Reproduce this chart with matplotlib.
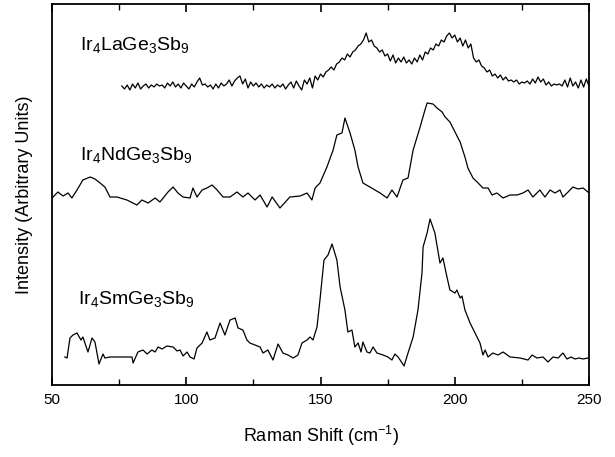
import matplotlib
matplotlib.use("Agg")
import matplotlib.pyplot as plt
from matplotlib.ticker import MultipleLocator

# --- data (Raman shift in cm-1, arbitrary intensity) ---
la_shift = list(range(76, 251))
la_int = [
    299, 296, 300, 295, 301, 297, 302, 296, 299, 301, 297, 300, 298, 301, 299, 300,
    297, 302, 299, 303, 298, 301, 297, 302, 299, 296, 301, 298, 303, 307, 300, 301,
    298, 300, 296, 301, 297, 302, 299, 301, 305, 299, 304, 307, 309, 301, 306, 297,
    303, 299, 302, 298, 301, 297, 300, 298, 301, 297, 300, 298, 301, 296, 300, 303,
    297, 304, 299, 295, 305, 301, 307, 297, 309, 305, 311, 308, 313, 315, 318, 315,
    321, 323, 327, 325, 331, 328, 333, 335, 339, 341, 345, 352, 343, 345, 339, 337,
    333, 335, 329, 331, 324, 330, 322, 327, 323, 328, 322, 325, 321, 327, 323, 330,
    325, 333, 331, 337, 335, 341, 339, 345, 343, 349, 352, 347, 350, 343, 347, 339,
    345, 337, 341, 327, 323, 325, 319, 317, 313, 315, 309, 311, 307, 310, 305, 308,
    304, 305, 303, 305, 301, 303, 302, 304, 301, 306, 302, 308, 303, 306, 300, 303,
    299, 301, 300, 301, 299, 305, 298, 307, 299, 303, 297, 305, 298, 306, 299,
]

nd_shift = [
    50.4, 52.2, 54.1, 56.0, 57.4, 59.3, 61.5, 64.2, 66.0, 67.9, 69.7, 71.6, 74.2,
    77.9, 81.6, 83.5, 85.8, 88.4, 90.2, 93.2, 95.1, 96.9, 98.8, 101.4, 102.5, 104.0,
    105.9, 107.7, 109.6, 111.5, 113.7, 116.3, 118.9, 121.1, 123.0, 125.6, 127.5,
    130.1, 132.0, 134.9, 138.6, 142.4, 145.0, 146.8, 148.0, 149.8, 152.4, 154.7,
    156.1, 158.0, 159.1, 161.0, 162.8, 164.0, 165.8, 168.4, 170.3, 172.2, 174.8,
    176.6, 178.5, 180.7, 182.6, 184.5, 187.1, 188.9, 189.7, 191.9, 193.4, 195.3,
    196.4, 198.2, 200.1, 202.0, 203.8, 204.9, 206.8, 208.7, 210.5, 212.4, 213.9,
    215.7, 218.0, 220.6, 223.2, 225.4, 227.3, 229.1, 231.7, 233.6, 235.5, 237.3,
    239.2, 240.3, 242.2, 244.0, 245.9, 247.8, 249.6,
]
nd_int = [
    188, 193, 189, 192, 187, 195, 205, 208, 206, 202, 198, 188, 188,
    185, 180, 185, 182, 187, 183, 193, 198, 192, 188, 187, 197, 188,
    195, 197, 200, 195, 188, 188, 193, 188, 192, 185, 190,
    178, 188, 177, 188, 189, 192, 185, 197, 202, 218, 235,
    250, 252, 267, 252, 235, 218, 202, 198, 195, 192, 187,
    195, 188, 205, 207, 235, 258, 275, 282, 281, 277, 273,
    268, 263, 253, 243, 228, 217, 207, 202, 197, 197, 190,
    192, 187, 190, 190, 192, 195, 188, 195, 188, 195, 192,
    195, 188, 193, 198, 196, 197, 193,
]

sm_shift = [
    54.8, 55.6, 56.7, 57.8, 59.3, 60.8, 61.5, 63.4, 64.9, 66.0, 67.5, 69.0, 69.7,
    71.6, 74.2, 79.8, 80.2, 82.0, 83.9, 85.4, 87.2, 88.4, 89.5, 91.0, 92.8, 95.1,
    96.6, 97.7, 98.8, 100.3, 101.4, 102.9, 104.0, 105.9, 107.7, 108.8, 110.7, 112.6,
    114.4, 116.3, 118.2, 119.3, 121.1, 122.6, 123.7, 125.6, 127.5, 128.6, 130.4,
    132.3, 134.2, 136.0, 137.9, 139.8, 141.6, 143.1, 145.0, 146.1, 147.2, 148.7,
    149.8, 151.3, 152.8, 154.3, 156.1, 157.3, 159.1, 160.2, 161.7, 162.8, 164.0,
    165.1, 165.8, 167.3, 168.4, 169.6, 171.0, 173.3, 175.1, 176.6, 177.7, 178.9,
    180.4, 181.1, 182.6, 184.5, 186.3, 187.8, 188.2, 189.7, 190.8, 192.6, 194.5,
    195.6, 197.1, 198.2, 200.1, 200.8, 202.0, 202.7, 203.8, 205.7, 208.3, 209.4,
    210.5, 211.3, 212.4, 214.2, 216.1, 218.0, 220.6, 224.3, 227.3, 228.8, 230.6,
    232.9, 234.7, 236.6, 238.5, 240.3, 241.8, 243.3, 244.8, 246.3, 247.8, 249.6,
]
sm_int = [
    28, 27, 47, 50, 52, 45, 48, 33, 47, 43, 21, 31, 27,
    28, 28, 28, 22, 33, 35, 31, 35, 33, 38, 36, 39, 38,
    34, 35, 29, 33, 28, 26, 37, 42, 53, 45, 47, 62,
    50, 65, 67, 57, 55, 45, 42, 40, 38, 32, 35,
    25, 41, 32, 30, 27, 30, 42, 45, 48, 45, 58,
    85, 125, 130, 141, 125, 98, 75, 53, 55, 38, 42,
    33, 43, 33, 32, 38, 32, 30, 28, 25, 31, 28,
    22, 19, 32, 48, 75, 112, 138, 152, 166, 152, 122,
    127, 108, 95, 92, 95, 87, 89, 75, 62, 48, 42,
    30, 35, 28, 32, 30, 33, 28, 27, 25, 30, 27,
    28, 23, 28, 27, 32, 26, 28, 26, 27, 26, 27,
]

labels = [r"Ir$_4$LaGe$_3$Sb$_9$", r"Ir$_4$NdGe$_3$Sb$_9$", r"Ir$_4$SmGe$_3$Sb$_9$"]
label_pos = [(60.5, 340), (60.5, 230), (59.5, 86)]

plt.rcParams["font.family"] = ["Liberation Sans", "DejaVu Sans"]
plt.rcParams["mathtext.fontset"] = "custom"
plt.rcParams["mathtext.rm"] = "Liberation Sans"
plt.rcParams["mathtext.it"] = "Liberation Sans"

fig = plt.figure(figsize=(6.15, 4.57), dpi=100)
ax = fig.add_axes([52 / 615, 72 / 457, 537 / 615, 381 / 457])

for xs, ys in [(la_shift, la_int), (nd_shift, nd_int), (sm_shift, sm_int)]:
    ax.plot(xs, ys, color="black", lw=0.9)

for lab, (x, y) in zip(labels, label_pos):
    ax.text(x, y, lab, fontsize=14, va="center", ha="left")

ax.set_xlim(50, 250)
ax.set_ylim(0, 381)
ax.xaxis.set_major_locator(MultipleLocator(50))
ax.xaxis.set_minor_locator(MultipleLocator(25))
ax.tick_params(axis="x", which="both", direction="in", top=True, labelsize=11, pad=6)
ax.tick_params(axis="x", which="major", length=6, width=1.2)
ax.tick_params(axis="x", which="minor", length=4, width=1.0)
ax.set_yticks([])
for s in ax.spines.values():
    s.set_linewidth(1.3)

ax.set_xlabel("Raman Shift (cm$^{-1}$)", fontsize=13, labelpad=12)
ax.set_ylabel("Intensity (Arbitrary Units)", fontsize=13, labelpad=14)

fig.savefig("out.png", dpi=100)
